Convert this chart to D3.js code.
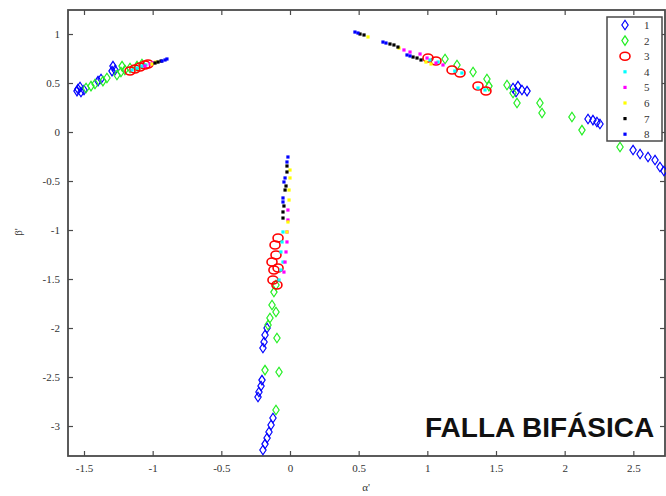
<!DOCTYPE html>
<html><head><meta charset="utf-8">
<script src="https://cdn.jsdelivr.net/npm/d3@7"></script>
<style>body{margin:0;background:#fff}svg{display:block}</style>
</head><body>
<script>
// ---- data ----
const seriesNames = ["1","2","3","4","5","6","7","8"];
const xTicks = [-1.5,-1,-0.5,0,0.5,1,1.5,2,2.5];
const yTicks = [1,0.5,0,-0.5,-1,-1.5,-2,-2.5,-3];
const s1 = [[-1.544,0.439],[-1.522,0.408],[-1.529,0.459],[-1.551,0.418],[-1.5,0.429],[-1.398,0.52],[-1.376,0.541],[-1.296,0.622],[-1.274,0.633],[-1.289,0.673],
  [1.624,0.449],[1.66,0.469],[1.689,0.429],[1.726,0.418],[1.646,0.408],[2.17,0.133],[2.206,0.122],[2.235,0.102],[2.257,0.082],[2.498,-0.184],[2.549,-0.224],[2.607,-0.255],[2.658,-0.286],[2.694,-0.357],[2.723,-0.398],
  [-0.167,-2.0],[-0.182,-2.071],[-0.189,-2.143],[-0.197,-2.204],[-0.204,-2.531],[-0.211,-2.592],[-0.226,-2.653],[-0.233,-2.704],[-0.124,-2.918],[-0.138,-2.99],[-0.153,-3.061],[-0.167,-3.122],[-0.182,-3.184],[-0.197,-3.245]];
const s2 = [[-1.485,0.449],[-1.449,0.469],[-1.42,0.49],[-1.362,0.52],[-1.333,0.551],[-1.26,0.582],[-1.231,0.612],[-1.202,0.633],[-1.165,0.653],[-1.114,0.673],[-1.078,0.694],[-1.223,0.673],
  [1.129,0.745],[1.216,0.684],[1.333,0.612],[1.434,0.541],[1.449,0.469],[1.58,0.48],[1.624,0.398],[1.653,0.296],[1.82,0.296],[1.835,0.194],[2.053,0.153],[2.126,0.02],[2.403,-0.153],
  [-0.102,-1.561],[-0.117,-1.633],[-0.131,-1.765],[-0.102,-1.837],[-0.146,-1.898],[-0.16,-1.969],[-0.095,-2.102],[-0.182,-2.429],[-0.08,-2.449],[-0.102,-2.837]];
const s3 = [[-1.165,0.622],[-1.129,0.643],[-1.092,0.663],[-1.056,0.684],[-1.034,0.694],
  [1.005,0.755],[1.063,0.724],[1.18,0.633],[1.238,0.602],[1.369,0.469],[1.427,0.418],
  [-0.087,-1.082],[-0.109,-1.153],[-0.102,-1.255],[-0.131,-1.327],[-0.117,-1.408],[-0.087,-1.388],[-0.124,-1.51],[-0.095,-1.561]];
const s4 = [[-1.15,0.633],[-1.114,0.653],[-1.078,0.673],[-1.049,0.684],
  [1.019,0.735],[1.078,0.714],[1.2,0.622],[1.252,0.602],[1.369,0.449],[1.42,0.429],
  [-0.051,-1.02],[-0.058,-1.122],[-0.066,-1.224],[-0.051,-1.327],[-0.066,-1.408],[-0.08,-1.51]];
const s5 = [[-1.056,0.673],[-1.019,0.694],[-0.998,0.704],
  [0.83,0.837],[0.874,0.816],[0.947,0.796],[0.998,0.755],[1.063,0.704],[1.114,0.684],
  [-0.015,-0.796],[-0.015,-0.898],[-0.022,-1.02],[-0.022,-1.122],[-0.029,-1.224],[-0.036,-1.327],[-0.044,-1.429]];
const s6 = [[-1.005,0.694],[-0.976,0.714],
  [0.568,0.97],[0.794,0.857],[0.99,0.714],[1.027,0.694],
  [0,-0.388],[0,-0.469],[-0.007,-0.592],[-0.007,-0.694],[-0.015,-0.918],[-0.022,-1.02]];
const s7 = [[-0.983,0.704],[-0.961,0.714],[-0.939,0.724],
  [0.51,1.0],[0.539,0.99],[0.728,0.898],[0.757,0.888],[0.786,0.867],[0.896,0.765],[0.925,0.755],[0.954,0.735],
  [-0.022,-0.347],[-0.022,-0.408],[-0.029,-0.551],[-0.036,-0.592],[-0.044,-0.755],[-0.051,-0.816],[-0.051,-0.878]];
const s8 = [[-0.932,0.724],[-0.91,0.735],[-0.896,0.745],
  [0.473,1.02],[0.495,1.01],[0.677,0.918],[0.699,0.908],[0.852,0.786],[0.874,0.776],
  [-0.015,-0.255],[-0.022,-0.306],[-0.036,-0.469],[-0.044,-0.51],[-0.051,-0.673],[-0.051,-0.714]];
const seriesData = [s1,s2,s3,s4,s5,s6,s7,s8];
const seriesColors = ["#0000ff","#22ee22","#ff0000","#00ffff","#ff00ff","#ffff00","#000000","#0000ff"];
const seriesMarkers = ["diamond","diamond","circle","dot","dot","dot","dot","dot"];
const xDomain = [-1.6165, 2.7306];
const yDomain = [-3.306, 1.245];
const titleText = "FALLA BIFÁSICA";

// ---- drawing ----
const W = 666, H = 496;
const m = {l:68, t:10, r:665, b:456};
const svg = d3.select("body").append("svg").attr("width",W).attr("height",H);
const x = d3.scaleLinear().domain(xDomain).range([m.l,m.r]);
const y = d3.scaleLinear().domain(yDomain).range([m.b,m.t]);
const axisColor = "#4a4a4a";
const fnt = "'Liberation Serif','Times New Roman',serif";

function styleAxis(g){
  g.select(".domain").remove();
  g.selectAll(".tick line").attr("stroke",axisColor).attr("stroke-width",1.2);
  g.selectAll(".tick text").attr("fill","#333").style("font-family",fnt).style("font-size","11px");
}
const fmt = d => String(d);
svg.append("g").attr("transform",`translate(0,${m.b})`)
  .call(d3.axisBottom(x).tickValues(xTicks).tickFormat(fmt).tickSize(-5).tickPadding(8)).call(styleAxis);
svg.append("g").attr("transform",`translate(0,${m.t})`)
  .call(d3.axisTop(x).tickValues(xTicks).tickFormat("").tickSize(-5)).call(styleAxis);
svg.append("g").attr("transform",`translate(${m.l},0)`)
  .call(d3.axisLeft(y).tickValues(yTicks).tickFormat(fmt).tickSize(-5).tickPadding(8)).call(styleAxis);
svg.append("g").attr("transform",`translate(${m.r},0)`)
  .call(d3.axisRight(y).tickValues(yTicks).tickFormat("").tickSize(-5)).call(styleAxis);
svg.append("rect").attr("x",m.l).attr("y",m.t).attr("width",m.r-m.l).attr("height",m.b-m.t)
  .attr("fill","none").attr("stroke",axisColor).attr("stroke-width",1.8);

const diamond = d3.symbol().type(d3.symbolDiamond).size(26);
function drawMarker(g, type, color){
  if(type==="diamond"){
    g.append("path").attr("d",diamond()).attr("transform","scale(1.15,1)")
      .attr("fill","none").attr("stroke",color).attr("stroke-width",1.2).attr("vector-effect","non-scaling-stroke");
  } else if(type==="circle"){
    g.append("ellipse").attr("rx",5).attr("ry",4).attr("fill","none").attr("stroke",color).attr("stroke-width",1.6);
  } else {
    g.append("rect").attr("x",-1.6).attr("y",-1.6).attr("width",3.2).attr("height",3.2).attr("fill",color);
  }
}
const plot = svg.append("g");
seriesData.forEach((data,i)=>{
  plot.selectAll(null).data(data).enter().append("g")
    .attr("transform",d=>`translate(${x(d[0])},${y(d[1])})`)
    .each(function(){ drawMarker(d3.select(this), seriesMarkers[i], seriesColors[i]); });
});

// legend
const lg = svg.append("g");
lg.append("rect").attr("x",607).attr("y",17).attr("width",55).attr("height",124)
  .attr("fill","#fff").attr("stroke",axisColor).attr("stroke-width",1.5);
seriesNames.forEach((n,i)=>{
  const yy = 25 + i*15.6;
  const g = lg.append("g").attr("transform",`translate(625,${yy})`);
  drawMarker(g, seriesMarkers[i], seriesColors[i]);
  lg.append("text").attr("x",644).attr("y",yy+4).text(n)
    .style("font-family",fnt).style("font-size","11px").attr("fill","#333");
});

// labels
svg.append("text").attr("x",366).attr("y",491).attr("text-anchor","middle")
  .style("font-family",fnt).style("font-size","11px").attr("fill","#333").text("α'");
svg.append("text").attr("transform","translate(22,232) rotate(-90)").attr("text-anchor","middle")
  .style("font-family",fnt).style("font-size","11px").attr("fill","#333").text("β'");
svg.append("text").attr("x",425).attr("y",437)
  .style("font-family","'Liberation Sans',Arial,sans-serif").style("font-weight","bold").style("font-size","28px")
  .attr("fill","#111").text(titleText);
</script>
</body></html>
